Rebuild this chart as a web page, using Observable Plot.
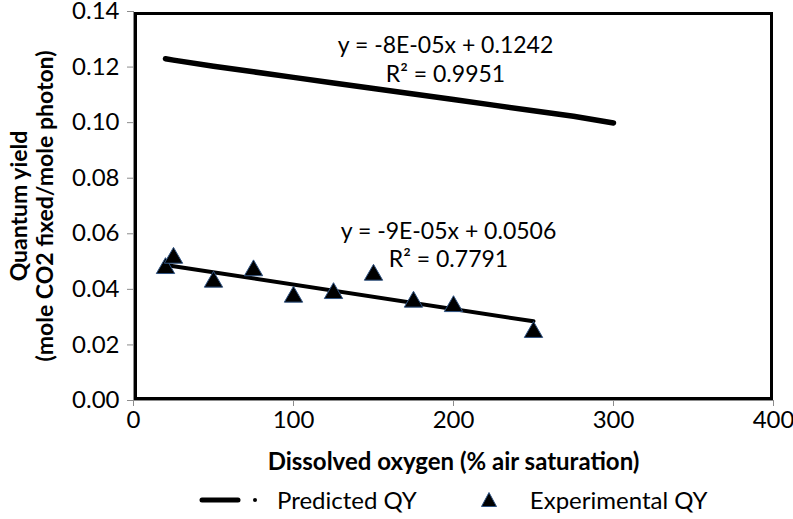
<!DOCTYPE html>
<html>
<head>
<meta charset="utf-8">
<script src="https://cdn.jsdelivr.net/npm/d3@7"></script>
<script src="https://cdn.jsdelivr.net/npm/@observablehq/plot@0.6"></script>
<style>
  body { margin: 0; background: white; font-family: Lato, sans-serif; }
  #chart { width: 793px; height: 519px; position: relative; overflow: hidden; }
  .legend { display: flex; align-items: center; height: 39px; padding-left: 197px; font-size: 24px; color: #000; }
  .legend svg { display: block; }
</style>
</head>
<body>
<div id="chart"></div>
<script>
// ---- data ----
const xTicks = [0, 100, 200, 300, 400];
const yTicks = [0, 0.02, 0.04, 0.06, 0.08, 0.10, 0.12, 0.14];

const predictedDO = [20, 25, 50, 75, 100, 125, 150, 175, 200, 225, 250, 275, 300];
const predictedQY = [0.1230, 0.1225, 0.1203, 0.1183, 0.1163, 0.1143, 0.1123, 0.1103, 0.1083, 0.1063, 0.1043, 0.1023, 0.0999];

const experimentalDO = [20, 25, 50, 75, 100, 125, 150, 175, 200, 250];
const experimentalQY = [0.0476, 0.0513, 0.0427, 0.0468, 0.0373, 0.0386, 0.0452, 0.0355, 0.0339, 0.0246];

const trendDO = [20, 250];
const trendQY = [0.0488, 0.0285];

const equationPredicted = "y = -8E-05x + 0.1242\nR² = 0.9951";
const equationExperimental = "y = -9E-05x + 0.0506\nR² = 0.7791";

const xLabel = "Dissolved oxygen (% air saturation)";
const yLabel = "Quantum yield\n(mole CO2 fixed/mole photon)";
const seriesNames = ["Predicted QY", "Experimental QY"];

// ---- tables ----
const predicted = predictedDO.map((x, i) => ({x, y: predictedQY[i]}));
const experimental = experimentalDO.map((x, i) => ({x, y: experimentalQY[i]}));
const trend = trendDO.map((x, i) => ({x, y: trendQY[i]}));

const plot = Plot.plot({
  width: 793,
  height: 480,
  marginLeft: 133,
  marginRight: 20,
  marginTop: 11,
  marginBottom: 80,
  style: {fontFamily: "Lato, sans-serif", fontSize: "24px", color: "#000", background: "white", overflow: "visible"},
  x: {domain: [0, 400]},
  y: {domain: [0, 0.14]},
  marks: [
    Plot.ruleX([0], {stroke: "#8c8c8c", strokeWidth: 1}),
    Plot.ruleY([0], {stroke: "#8c8c8c", strokeWidth: 1}),
    Plot.frame({stroke: "black", strokeWidth: 3, inset: 2}),
    Plot.axisX({ticks: xTicks, tickSize: 6, tickPadding: 4, stroke: "#8c8c8c", fill: "#000", label: null, fontSize: 24}),
    Plot.axisY({ticks: yTicks, tickSize: 6, tickPadding: 8, tickFormat: d3.format(".2f"), stroke: "#8c8c8c", fill: "#000", label: null, fontSize: 24}),
    Plot.line(predicted, {x: "x", y: "y", stroke: "black", strokeWidth: 5.5, strokeLinecap: "round"}),
    Plot.dot(predicted, {x: "x", y: "y", r: 2, fill: "black"}),
    Plot.line(trend, {x: "x", y: "y", stroke: "black", strokeWidth: 4}),
    Plot.dot(experimental, {x: "x", y: "y", symbol: "triangle", r: 6.8, fill: "black", stroke: "#2f5383", strokeWidth: 1}),
    Plot.text([equationPredicted], {frameAnchor: "top", dy: 47, dx: -8, lineAnchor: "middle", lineHeight: 1.22, fontSize: 23, fill: "#000"}),
    Plot.text([equationExperimental], {frameAnchor: "middle", dy: 38, dx: -5, lineAnchor: "middle", lineHeight: 1.22, fontSize: 23, fill: "#000"}),
    Plot.text([xLabel], {frameAnchor: "bottom", dy: 69, fontSize: 24, fontWeight: "bold", fill: "#000"}),
    Plot.text([yLabel], {frameAnchor: "left", dx: -102, rotate: -90, textAnchor: "middle", lineAnchor: "middle", lineHeight: 1.13, fontSize: 23, fontWeight: "bold", fill: "#000"})
  ]
});

const chart = document.getElementById("chart");
chart.appendChild(plot);

const legend = document.createElement("div");
legend.className = "legend";
legend.innerHTML = `
  <svg width="64" height="20"><line x1="5" y1="10" x2="41" y2="10" stroke="black" stroke-width="5" stroke-linecap="round"/><circle cx="58" cy="10" r="2" fill="black"/></svg>
  <span style="margin-left:16px">${seriesNames[0]}</span>
  <svg width="20" height="20" style="margin-left:62px"><path d="M10,2.5 L17.5,16.5 L2.5,16.5 Z" fill="black" stroke="#2f5383" stroke-width="1"/></svg>
  <span style="margin-left:31px">${seriesNames[1]}</span>`;
chart.appendChild(legend);
</script>
</body>
</html>
